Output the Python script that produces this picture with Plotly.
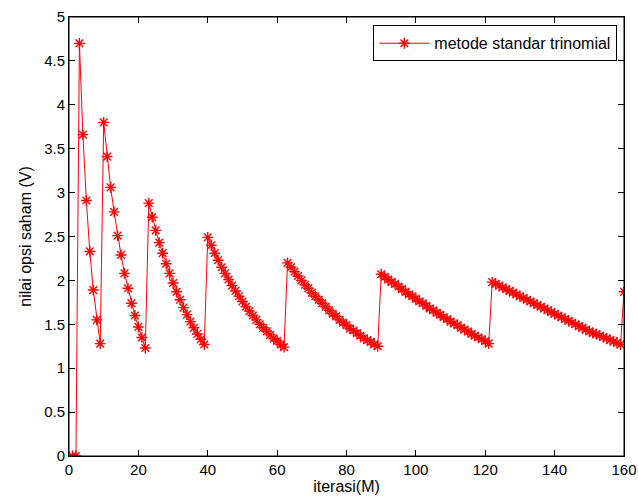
import plotly.graph_objects as go

# Iteration index M
iterations = list(range(1, 161))

# Option values, segment by segment
seg_start = [0.0, 0.0]
seg1 = [4.70, 3.66, 2.91, 2.33, 1.89, 1.55, 1.28]
seg2 = [3.80, 3.41, 3.06, 2.78, 2.51, 2.29, 2.08, 1.91, 1.74, 1.60, 1.47, 1.35, 1.23]
seg3 = [2.88, 2.72, 2.57, 2.43, 2.31, 2.19, 2.08, 1.97, 1.87, 1.78, 1.69, 1.61,
        1.53, 1.46, 1.39, 1.33, 1.27]
seg4 = [2.49, 2.40, 2.31, 2.23, 2.15, 2.08, 2.01, 1.94, 1.88, 1.82, 1.76, 1.70,
        1.65, 1.60, 1.55, 1.50, 1.46, 1.42, 1.38, 1.34, 1.31, 1.27, 1.24]
seg5 = [2.20, 2.15, 2.10, 2.05, 2.00, 1.95, 1.91, 1.86, 1.82, 1.78, 1.74, 1.70,
        1.66, 1.62, 1.59, 1.55, 1.52, 1.49, 1.45, 1.43, 1.40, 1.37, 1.34, 1.32,
        1.30, 1.27, 1.25]
seg6 = [2.07, 2.04, 2.01, 1.98, 1.96, 1.93, 1.90, 1.87, 1.84, 1.82, 1.79, 1.76,
        1.74, 1.71, 1.68, 1.66, 1.63, 1.61, 1.58, 1.56, 1.53, 1.51, 1.49, 1.46,
        1.44, 1.42, 1.39, 1.37, 1.35, 1.33, 1.31, 1.28]
seg7 = [1.98, 1.96, 1.94, 1.92, 1.90, 1.88, 1.86, 1.84, 1.82, 1.80, 1.78, 1.76,
        1.74, 1.72, 1.70, 1.68, 1.66, 1.64, 1.62, 1.60, 1.58, 1.56, 1.54, 1.52,
        1.50, 1.48, 1.46, 1.44, 1.42, 1.40, 1.39, 1.37, 1.355, 1.34, 1.32, 1.305,
        1.29, 1.27]
seg_end = [1.87]

option_values = seg_start + seg1 + seg2 + seg3 + seg4 + seg5 + seg6 + seg7 + seg_end

series_name = "metode standar trinomial"
x_title = "iterasi(M)"
y_title = "nilai opsi saham (V)"

FONT = "Liberation Sans, Arial, sans-serif"

fig = go.Figure()
fig.add_trace(go.Scatter(
    x=iterations, y=option_values, mode="lines+markers", name=series_name,
    line=dict(color="#ff0000", width=1),
    marker=dict(symbol="asterisk-open", size=9, color="#ff0000",
                line=dict(color="#ff0000", width=1.4)),
))

axis_common = dict(
    showline=True, linecolor="black", linewidth=1, mirror="ticks",
    ticks="inside", ticklen=6, tickcolor="black", showgrid=False,
    zeroline=False, automargin=False,
    tickfont=dict(family=FONT, size=15, color="black"),
)

fig.update_layout(
    width=638, height=502,
    margin=dict(l=69, r=14, t=17, b=46),
    paper_bgcolor="white", plot_bgcolor="white",
    font=dict(family=FONT, size=15, color="black"),
    showlegend=True,
    legend=dict(x=0.988, y=0.981, xanchor="right", yanchor="top",
                bordercolor="black", borderwidth=1, bgcolor="white",
                font=dict(family=FONT, size=16, color="black"),
                itemwidth=50),
    xaxis=dict(range=[0, 160], tick0=0, dtick=20,
               title=dict(text=x_title, standoff=2,
                          font=dict(family=FONT, size=16)), **axis_common),
    yaxis=dict(range=[0, 5], tick0=0, dtick=0.5,
               title=dict(text=y_title, standoff=8,
                          font=dict(family=FONT, size=16)), **axis_common),
    shapes=[dict(type="rect", xref="x domain", yref="y domain",
                 x0=0, x1=1, y0=0, y1=1, layer="above",
                 line=dict(color="black", width=1))],
)

fig.write_html(
    "out.html",
    config={"displayModeBar": False},
    post_script="document.body.style.margin='0';document.body.style.overflow='hidden';",
)
